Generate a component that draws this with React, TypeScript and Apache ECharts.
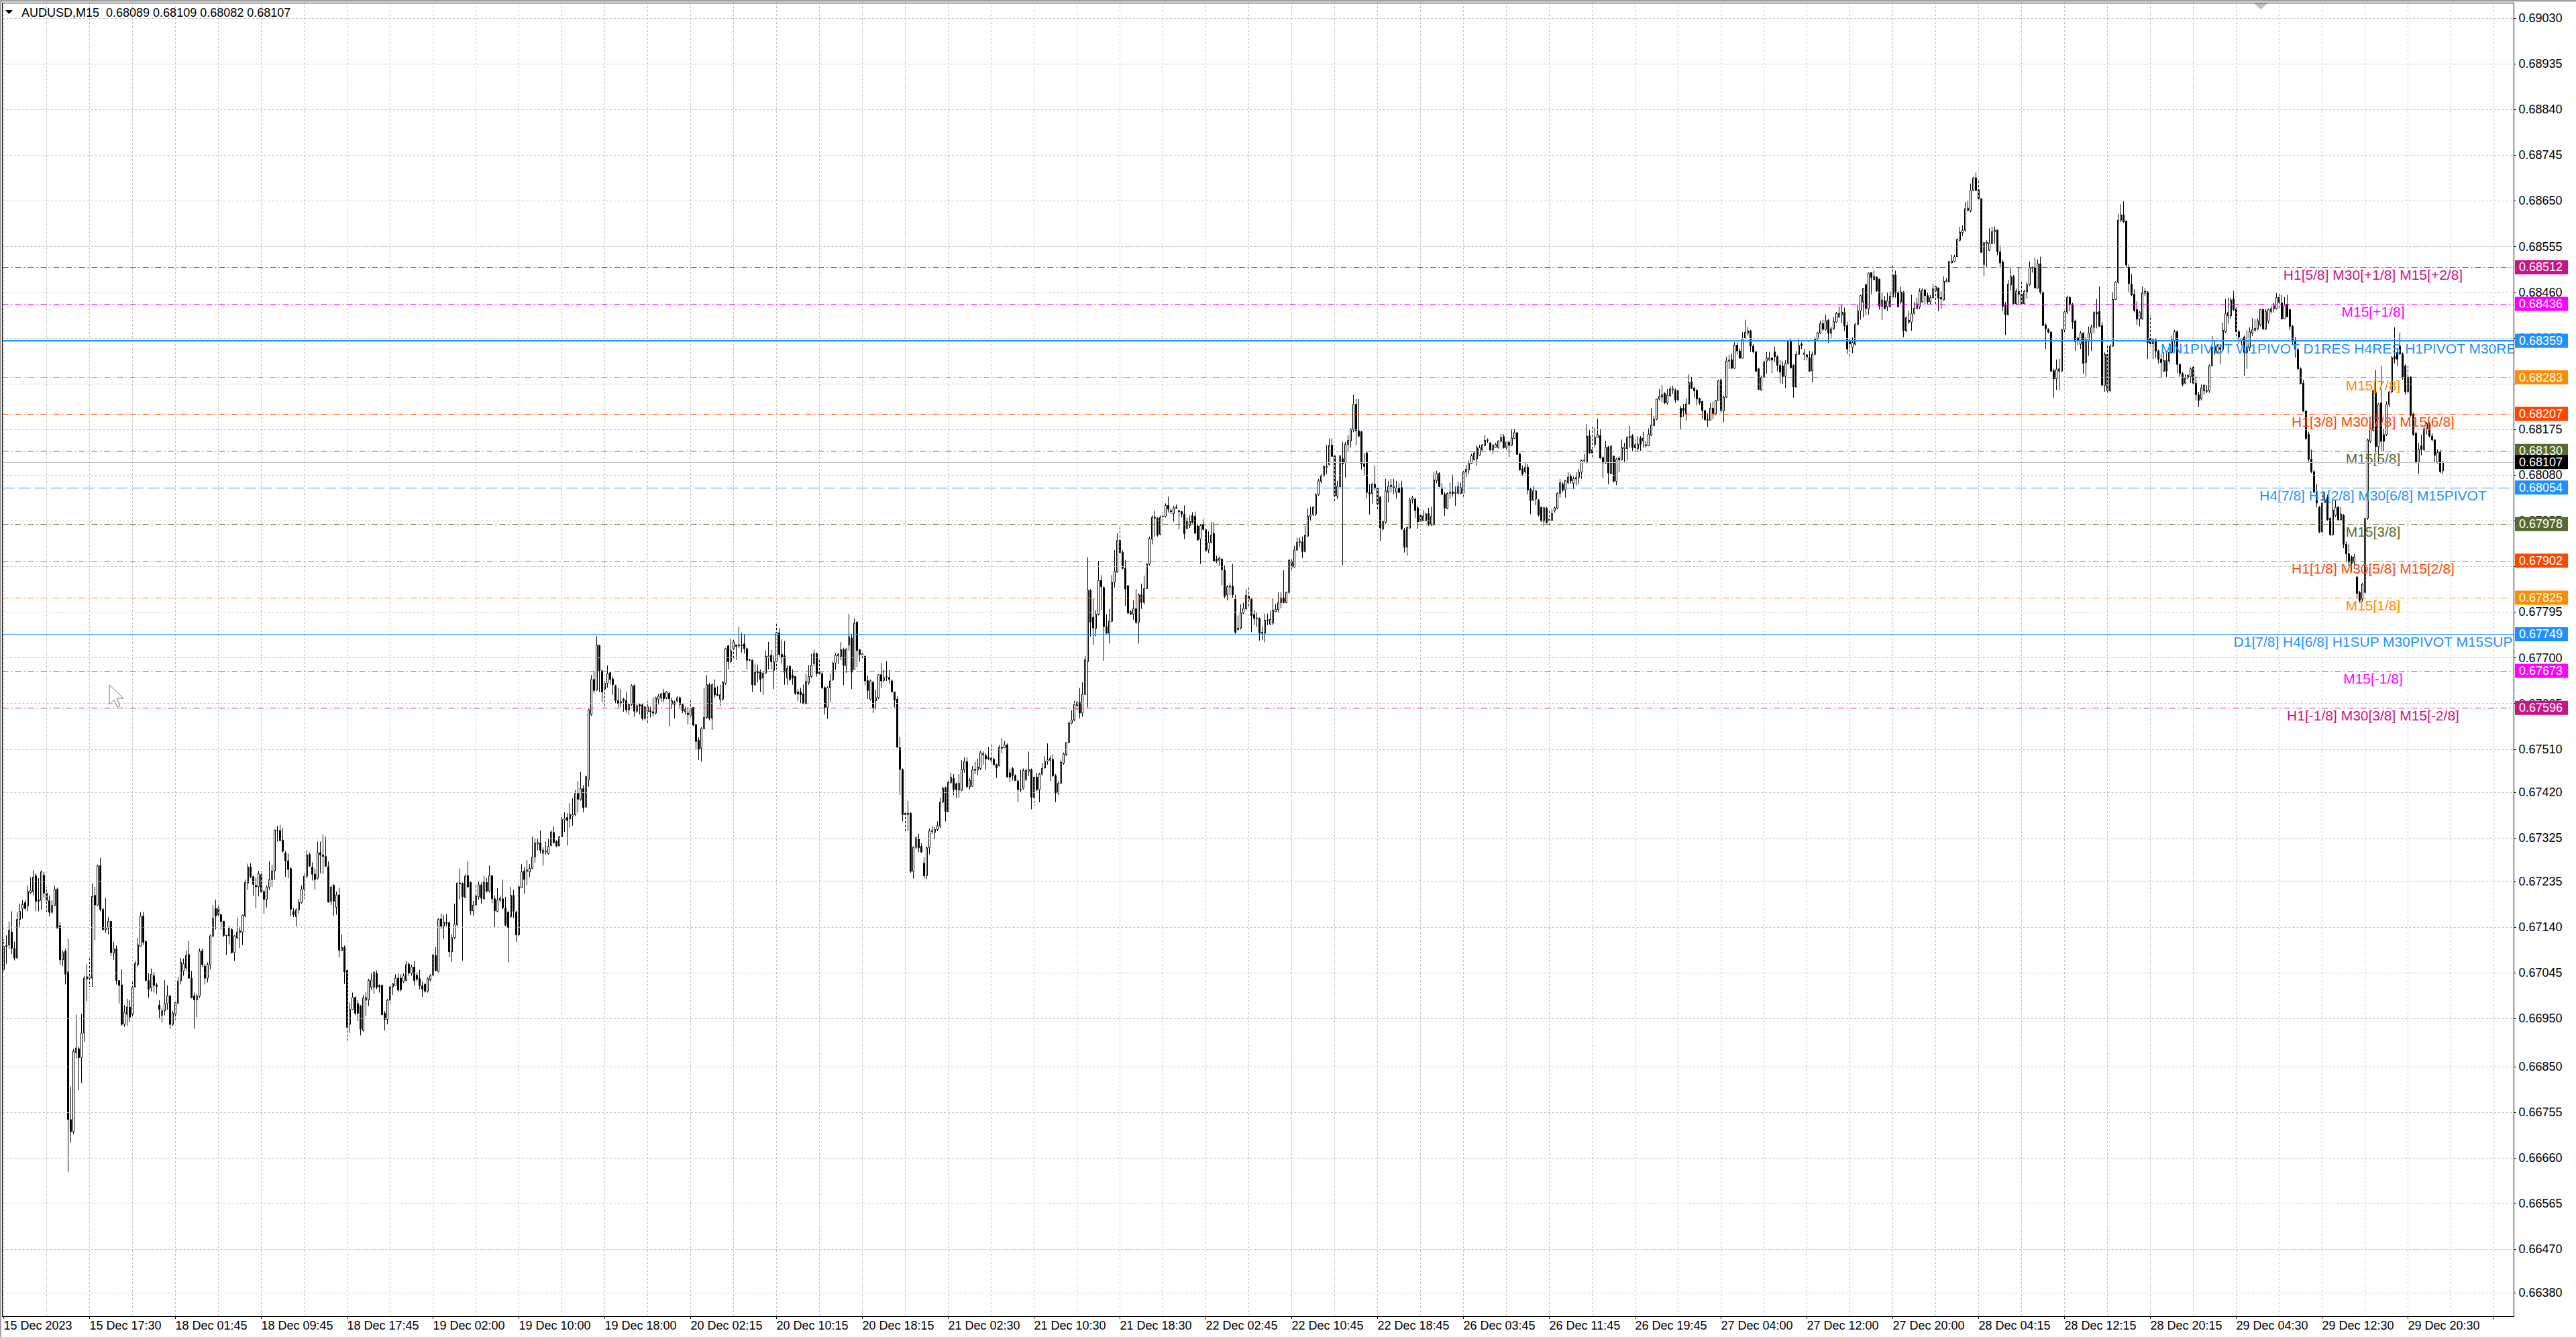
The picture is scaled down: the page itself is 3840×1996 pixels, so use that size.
import React, { useEffect, useRef } from "react";
import * as echarts from "echarts";

// Prices are stored in points (1 point = 0.00001)
const POINT = 100000;
const HEADER_TEXT = "AUDUSD,M15  0.68089 0.68109 0.68082 0.68107";
const FONT = "Liberation Sans";

const timeLabels = [
  "15 Dec 2023", "15 Dec 17:30", "18 Dec 01:45", "18 Dec 09:45", "18 Dec 17:45", "19 Dec 02:00",
  "19 Dec 10:00", "19 Dec 18:00", "20 Dec 02:15", "20 Dec 10:15", "20 Dec 18:15", "21 Dec 02:30",
  "21 Dec 10:30", "21 Dec 18:30", "22 Dec 02:45", "22 Dec 10:45", "22 Dec 18:45", "26 Dec 03:45",
  "26 Dec 11:45", "26 Dec 19:45", "27 Dec 04:00", "27 Dec 12:00", "27 Dec 20:00", "28 Dec 04:15",
  "28 Dec 12:15", "28 Dec 20:15", "29 Dec 04:30", "29 Dec 12:30", "29 Dec 20:30",
];
const LABEL_STEP = 32;
const GRID_STEP = 16;
const SHIFT_BARS = 26;

const Y_MIN = 66331.2;
const Y_MAX = 69060.7;
// price grid levels (every one has a dotted grid line)
const priceTicks = [
  69030, 68935, 68840, 68745, 68650, 68555, 68460, 68365, 68270, 68175, 68080, 67985, 67890, 67795,
  67700, 67605, 67510, 67420, 67325, 67235, 67140, 67045, 66950, 66850, 66755, 66660, 66565, 66470, 66380,
];
// price labels that are fully hidden under the level tags in the reference
const hiddenPriceLabels = [68270, 67890];

const LEVEL_LABEL_BAR = 883;
const BID = 68107;
const levels = [
  { price: 68512, text: "H1[5/8] M30[+1/8] M15[+2/8]", color: "#C71585", style: "dashdot", width: 1 },
  { price: 68436, text: "M15[+1/8]", color: "#FF00FF", style: "dashdot", width: 1 },
  { price: 68359, text: "MN1PIVOT W1PIVOT D1RES H4RES H1PIVOT M30RES M15RES", color: "#1E90FF", style: "solid", width: 2 },
  { price: 68283, text: "M15[7/8]", color: "#FF8C00", style: "dashdot", width: 1 },
  { price: 68207, text: "H1[3/8] M30[7/8] M15[6/8]", color: "#FF4500", style: "dashdot", width: 1 },
  { price: 68130, text: "M15[5/8]", color: "#556B2F", style: "dashdot", width: 1 },
  { price: 68054, text: "H4[7/8] H1[2/8] M30[6/8] M15PIVOT", color: "#1E90FF", style: "dash", width: 1 },
  { price: 67978, text: "M15[3/8]", color: "#556B2F", style: "dashdot", width: 1 },
  { price: 67902, text: "H1[1/8] M30[5/8] M15[2/8]", color: "#FF4500", style: "dashdot", width: 1 },
  { price: 67825, text: "M15[1/8]", color: "#FF8C00", style: "dashdot", width: 1 },
  { price: 67749, text: "D1[7/8] H4[6/8] H1SUP M30PIVOT M15SUP", color: "#1E90FF", style: "solid", width: 1 },
  { price: 67673, text: "M15[-1/8]", color: "#FF00FF", style: "dashdot", width: 1 },
  { price: 67596, text: "H1[-1/8] M30[3/8] M15[-2/8]", color: "#C71585", style: "dashdot", width: 1 },
];

// [open, close, low, high] in points
const seg1 = [
[67052,67100,67049,67115],[67100,67102,67064,67123],[67103,67134,67095,67152],[67130,67096,67084,67173],[67096,67076,67071,67110],
[67076,67156,67075,67171],[67156,67173,67141,67189],[67179,67187,67158,67196],[67191,67179,67176,67196],[67184,67214,67173,67227],
[67212,67216,67209,67244],[67214,67244,67206,67258],[67247,67194,67173,67252],[67197,67194,67173,67242],[67196,67255,67176,67258],
[67248,67211,67201,67255],[67211,67195,67168,67224],[67195,67171,67163,67206],[67171,67185,67168,67196],[67185,67219,67184,67226],
[67219,67138,67137,67222],[67143,67072,67062,67151],[67072,67087,67059,67092],[67090,67042,67021,67095],[67047,66740,66631,67116],
[66740,66715,66692,66808],[66715,66882,66710,66887],[66879,66889,66867,66958],[66887,66869,66801,66892],[66869,66920,66816,66960],
[66920,67034,66902,67039],[67032,67037,66986,67063],[67037,67034,67016,67075],[67034,67204,67016,67231],[67206,67186,67113,67224],
[67186,67267,67184,67270],[67268,67177,67173,67284],[67177,67135,67133,67181],[67135,67138,67128,67201],[67138,67152,67125,67161],
[67152,67087,67080,67153],[67086,67095,67072,67110],[67095,67029,67021,67102],[67029,67019,66981,67030],[67020,66938,66935,67052],
[66938,66963,66933,66978],[66959,66974,66935,66991],[66974,66953,66943,66988],[66958,67015,66950,67026],[67016,67065,67015,67070],
[67062,67103,67057,67118],[67100,67163,67099,67171],[67163,67109,67103,67172],[67110,67029,67029,67113],[67029,67011,66993,67044],
[67014,67042,67006,67054],[67039,67019,67004,67047],[67020,67017,67001,67024],[66978,66969,66950,66988],[66957,66966,66941,66971],
[66966,66981,66957,67030],[66981,66997,66968,67019],[66997,66938,66929,66999],[66938,66961,66935,66966],[66959,66983,66948,66988],
[66982,67028,66981,67037],[67029,67067,67021,67076],[67049,67064,67039,67075],[67055,67081,67050,67092],[67083,67034,67033,67111],
[67034,66993,66992,67049],[66997,66989,66929,67004],[66989,66997,66953,67001],[66997,67090,66993,67096],[67091,67062,67057,67096],
[67059,67034,67021,67064],[67034,67062,67025,67067],[67062,67122,67052,67125],[67121,67158,67120,67186],[67179,67163,67135,67197],
[67179,67166,67161,67189],[67166,67152,67135,67168],[67152,67123,67120,67153],[67123,67122,67082,67123],[67122,67138,67104,67143],
[67135,67087,67085,67138],[67087,67122,67070,67123],[67118,67130,67115,67160],[67129,67132,67097,67141],[67130,67165,67103,67166],
[67163,67233,67161,67239],[67232,67265,67217,67272],[67265,67244,67242,67273],[67245,67229,67206,67247],[67227,67224,67179,67244],
[67224,67251,67204,67257],[67249,67213,67211,67257],[67214,67198,67168,67217],[67198,67223,67181,67227],[67223,67239,67217,67277],
[67239,67257,67224,67270],[67257,67342,67239,67343],[67340,67341,67318,67351],[67341,67320,67319,67353],[67321,67298,67295,67346],
[67294,67278,67245,67298],[67278,67260,67242,67293],[67262,67177,67163,67265],[67173,67166,67161,67179],[67162,67176,67141,67179],
[67176,67191,67168,67199],[67191,67219,67189,67227],[67219,67246,67199,67251],[67246,67290,67242,67300],[67291,67267,67265,67295],
[67265,67250,67237,67275],[67250,67239,67218,67262],[67242,67295,67239,67318],[67295,67290,67252,67318],[67290,67287,67251,67333],
[67287,67267,67265,67328],[67266,67192,67191,67277],[67194,67223,67186,67227],[67227,67194,67163,67229],[67181,67207,67166,67214],
[67207,67092,67077,67222],[67092,67098,67090,67125],[67098,67047,67022,67102],[67050,66932,66902,67052],[66938,66969,66920,66983],
[66969,66994,66968,67004],[66994,66961,66957,66996],[66981,66961,66945,66988],[66977,66928,66915,66978],[66925,66993,66923,66999],
[66988,66994,66955,67005],[66989,67029,66976,67033],[67015,67030,67009,67044],[67015,67046,67001,67049],[67045,67015,67011,67050],
[67019,67016,67004,67021],[67019,66958,66958,67021],[66961,66948,66925,66966],[66948,66988,66938,66991],[66988,67016,66981,67019],
[67016,67022,66999,67024],[67019,67034,67019,67042],[67034,67009,67006,67044],[67034,67010,67006,67042],[67027,67039,67024,67044],
[67029,67062,67029,67070],[67063,67044,67039,67067],[67044,67057,67039,67062],[67057,67029,67019,67070],
];

const seg2 = [
[67040,67032,67027,67046],[67033,67018,67011,67051],[67018,67011,66995,67027],[67021,67007,67004,67024],[67007,67033,67004,67036],
[67031,67039,67027,67042],[67040,67082,67039,67086],[67081,67050,67048,67098],[67048,67156,67046,67159],[67157,67142,67136,67168],
[67142,67150,67115,67165],[67150,67148,67142,67167],[67149,67089,67077,67152],[67089,67118,67068,67124],[67118,67146,67115,67189],
[67145,67232,67142,67233],[67232,67230,67197,67262],[67231,67203,67070,67233],[67202,67246,67200,67250],[67247,67224,67221,67277],
[67233,67174,67165,67236],[67174,67186,67164,67195],[67186,67205,67183,67227],[67203,67228,67197,67236],[67228,67200,67189,67233],
[67199,67234,67197,67247],[67233,67215,67212,67242],[67215,67247,67212,67268],[67247,67199,67190,67249],[67199,67174,67139,67206],
[67173,67196,67171,67221],[67196,67200,67192,67206],[67199,67180,67177,67239],[67180,67144,67142,67203],[67171,67139,67067,67174],
[67162,67206,67159,67224],[67206,67173,67159,67218],[67171,67124,67109,67174],[67124,67224,67121,67227],[67222,67255,67221,67271],
[67257,67239,67210,67265],[67256,67259,67227,67280],[67255,67262,67244,67271],[67262,67286,67261,67328],[67286,67315,67274,67324],
[67313,67316,67300,67324],[67315,67300,67293,67341],[67294,67300,67268,67306],[67298,67297,67291,67318],[67293,67308,67291,67324],
[67310,67338,67308,67341],[67337,67316,67314,67349],[67318,67309,67306,67321],[67309,67328,67308,67330],[67328,67364,67327,67374],
[67363,67366,67338,67379],[67368,67362,67310,67377],[67365,67374,67347,67398],[67371,67374,67351,67408],[67374,67418,67371,67425],
[67418,67406,67379,67444],[67406,67428,67403,67463],[67428,67388,67379,67435],[67390,67453,67388,67455],[67446,67592,67432,67594],
[67582,67655,67579,67664],[67655,67632,67626,67673],[67633,67727,67631,67745],[67726,67673,67629,67727],[67673,67629,67608,67676],
[67635,67647,67600,67652],[67647,67667,67638,67684],[67669,67655,67644,67670],[67656,67644,67623,67661],[67642,67611,67605,67644],
[67611,67605,67597,67638],[67606,67609,67597,67635],[67614,67611,67588,67617],[67611,67592,67586,67629],[67592,67603,67582,67605],
[67603,67642,67600,67645],[67642,67589,67578,67645],[67589,67600,67585,67605],[67603,67600,67582,67605],[67602,67574,67570,67605],
[67574,67598,67570,67600],[67588,67598,67563,67610],[67590,67588,67576,67598],[67588,67585,67578,67617],[67585,67617,67582,67619],
[67614,67620,67603,67625],[67617,67625,67608,67627],[67627,67615,67608,67635],[67617,67629,67614,67631],[67626,67615,67558,67629],
[67604,67611,67594,67617],[67608,67603,67574,67611],[67610,67617,67608,67620],[67617,67603,67597,67620],[67603,67590,67585,67605],
[67588,67593,67582,67598],[67585,67582,67561,67598],[67580,67595,67576,67611],[67597,67560,67558,67598],[67561,67526,67509,67563],
[67529,67509,67488,67535],[67512,67553,67484,67556],[67553,67576,67551,67638],[67576,67644,67573,67664],[67644,67574,67570,67648],
[67574,67644,67550,67647],[67638,67623,67617,67655],[67625,67622,67620,67641],[67614,67623,67600,67644],[67614,67649,67611,67652],
[67647,67719,67644,67721],[67725,67692,67676,67727],[67692,67715,67689,67740],[67719,67733,67699,67740],[67727,67724,67696,67727],
[67725,67727,67720,67765],[67727,67725,67711,67752],[67729,67719,67709,67749],[67719,67695,67676,67721],[67696,67695,67693,67698],
[67695,67644,67629,67696],[67644,67670,67641,67688],[67671,67669,67649,67686],[67670,67655,67629,67676],[67658,67668,67623,67673],
[67668,67703,67667,67715],[67702,67704,67676,67733],[67705,67692,67676,67717],[67674,67692,67635,67705],[67692,67752,67676,67770],
[67752,67707,67702,67761],[67707,67702,67688,67738],[67705,67670,67644,67735],[67658,67678,67644,67684],[67682,67655,67652,67685],
[67664,67658,67644,67676],[67661,67626,67623,67662],[67629,67625,67610,67635],[67629,67623,67605,67638],[67625,67605,67604,67644],
[67605,67651,67603,67667],[67648,67661,67644,67685],[67661,67685,67658,67708],[67688,67709,67682,67717],[67709,67667,67661,67711],
[67670,67667,67664,67699],[67667,67638,67635,67670],[67638,67597,67582,67641],[67597,67638,67573,67641],[67638,67652,67608,67667],
];

const seg3 = [
[67655,67689,67652,67692],[67689,67705,67675,67710],[67704,67707,67687,67710],[67703,67717,67695,67733],[67717,67684,67643,67721],
[67684,67718,67669,67721],[67727,67744,67715,67791],[67741,67670,67635,67750],[67676,67772,67675,67782],[67774,67715,67681,67776],
[67717,67707,67692,67718],[67708,67706,67698,67710],[67703,67652,67643,67705],[67653,67632,67614,67663],[67614,67652,67611,67655],
[67649,67597,67585,67652],[67611,67617,67593,67634],[67617,67665,67614,67666],[67665,67652,67637,67689],[67653,67659,67649,67675],
[67660,67661,67652,67693],[67659,67655,67646,67675],[67652,67629,67629,67655],[67629,67612,67597,67630],[67614,67514,67513,67620],
[67513,67468,67415,67536],[67468,67374,67360,67470],[67377,67374,67340,67379],[67374,67377,67340,67403],[67377,67256,67253,67379],
[67256,67306,67241,67308],[67306,67326,67302,67328],[67323,67305,67296,67334],[67308,67296,67295,67314],[67273,67247,67241,67285],
[67247,67305,67240,67308],[67305,67340,67291,67345],[67339,67341,67334,67351],[67337,67343,67323,67348],[67343,67351,67340,67360],
[67350,67400,67345,67409],[67400,67429,67398,67432],[67430,67380,67360,67432],[67380,67441,67377,67444],[67441,67452,67438,67461],
[67449,67426,67415,67458],[67438,67426,67409,67441],[67425,67439,67409,67458],[67425,67468,67423,67487],[67467,67484,67461,67493],
[67484,67432,67429,67493],[67432,67445,67426,67450],[67433,67467,67432,67475],[67468,67466,67458,67484],[67467,67473,67456,67490],
[67470,67503,67467,67507],[67498,67501,67478,67506],[67497,67490,67467,67502],[67493,67490,67487,67514],[67491,67487,67477,67522],
[67489,67478,67476,67493],[67478,67471,67450,67480],[67476,67514,67474,67519],[67512,67514,67502,67533],[67513,67519,67513,67527],
[67519,67452,67452,67522],[67461,67452,67441,67470],[67470,67455,67445,67473],[67455,67445,67444,67458],[67444,67426,67400,67447],
[67426,67427,67421,67467],[67429,67466,67426,67470],[67447,67466,67444,67470],[67464,67468,67455,67505],[67467,67410,67385,67470],
[67410,67452,67392,67455],[67452,67426,67423,67461],[67426,67458,67400,67461],[67458,67470,67455,67481],[67471,67484,67470,67496],
[67485,67488,67478,67522],[67487,67491,67444,67496],[67489,67455,67452,67499],[67455,67419,67400,67458],[67419,67439,67415,67444],
[67439,67483,67438,67487],[67481,67500,67478,67503],[67499,67524,67496,67525],[67524,67564,67522,67568],[67564,67571,67562,67591],
[67571,67603,67568,67611],[67600,67607,67591,67611],[67607,67585,67574,67637],[67585,67624,67577,67649],[67624,67696,67623,67704],
[67692,67841,67597,67909],[67840,67774,67744,67843],[67784,67762,67727,67824],[67761,67791,67745,67799],[67791,67861,67788,67901],
[67861,67848,67799,67872],[67846,67765,67694,67849],[67765,67751,67750,67791],[67751,67776,67730,67802],[67776,67857,67773,67872],
[67857,67880,67846,67924],[67878,67944,67877,67959],[67944,67919,67915,67971],[67919,67886,67884,67924],[67886,67843,67808,67903],
[67850,67793,67791,67851],[67796,67791,67789,67799],[67791,67802,67779,67819],[67802,67774,67770,67843],[67774,67831,67730,67834],
[67831,67815,67802,67854],[67815,67844,67811,67871],[67844,67895,67843,67897],[67895,67948,67892,67952],[67947,67992,67936,67996],
[67992,67990,67952,68006],[67990,67955,67952,67992],[67957,67992,67955,67996],[67993,67994,67979,68002],[67994,68017,67992,68021],
[68017,68009,68002,68035],[68006,68004,67999,68010],[68000,68011,67983,68016],[68013,68011,68010,68019],[68006,68004,67967,68007],
[68004,67999,67992,68006],[67999,67958,67947,68017],[67969,67984,67967,67992],[67975,67984,67970,67996],[67996,67981,67979,68003],
[67994,67959,67957,68004],[67974,67945,67944,67977],[67947,67975,67895,67978],[67977,67967,67964,67988],[67967,67922,67921,67969],
[67925,67940,67918,67963],[67940,67955,67938,67982],[67959,67901,67900,67982],[67905,67901,67897,67912],[67903,67907,67892,67911],
[67905,67883,67851,67907],[67882,67828,67824,67892],[67831,67848,67819,67851],[67847,67849,67830,67855],[67849,67831,67825,67895],
[67822,67753,67750,67831],[67759,67762,67756,67788],[67762,67793,67759,67811],[67793,67803,67791,67814],[67802,67830,67799,67843],
[67828,67822,67805,67848],[67822,67788,67753,67824],
];

const seg4 = [
[67790,67782,67768,67799],[67783,67782,67764,67794],[67782,67751,67736,67784],[67753,67751,67737,67766],[67751,67778,67732,67792],
[67779,67777,67768,67792],[67770,67780,67768,67798],[67772,67799,67768,67824],[67796,67801,67794,67812],[67800,67815,67794,67836],
[67815,67825,67803,67837],[67825,67815,67813,67882],[67815,67836,67813,67838],[67836,67903,67833,67905],[67900,67889,67878,67905],
[67889,67924,67887,67933],[67924,67940,67922,67950],[67940,67942,67930,67950],[67941,67921,67907,67952],[67921,67955,67919,67974],
[67953,67995,67951,68011],[67994,67997,67986,68014],[67998,68013,67995,68016],[67999,68039,67995,68042],[68039,68068,68037,68072],
[68067,68078,68063,68082],[68078,68098,68077,68100],[68095,68098,68082,68143],[68102,68142,68100,68156],[68142,68119,68117,68156],
[68120,68037,68026,68121],[68036,68057,68030,68068],[68056,68120,68054,68121],[68114,68103,67893,68149],[68106,68144,68075,68149],
[68144,68152,68128,68163],[68151,68176,68137,68177],[68174,68227,68169,68247],[68227,68172,68142,68238],[68172,68161,68158,68238],
[68170,68103,68091,68172],[68103,68098,68080,68125],[68126,68044,68031,68128],[68044,68040,67998,68061],[68042,68061,68021,68064],
[68061,68054,68049,68100],[68053,68020,68007,68054],[68034,67970,67943,68037],[67968,67983,67964,67986],[67982,68047,67979,68072],
[68044,68057,68023,68068],[68056,68059,68044,68072],[68054,68057,68040,68072],[68044,68053,68031,68068],[68053,68044,68042,68063],
[68054,67968,67966,68068],[67966,67930,67919,67970],[67930,67971,67912,67974],[67970,68028,67968,68033],[68029,68033,68021,68037],
[68030,68006,67991,68033],[68012,67983,67968,68016],[67997,67983,67981,68000],[67985,67995,67984,68007],[67985,67999,67984,68002],
[68000,67977,67974,68012],[67977,67994,67974,68014],[67977,68070,67974,68087],[68068,68083,68063,68089],[68083,68056,68055,68086],
[68051,68040,68039,68063],[68040,68011,67995,68044],[68011,68042,68009,68044],[68042,68044,68030,68064],[68045,68042,68035,68081],
[68042,68044,68016,68056],[68042,68056,68041,68065],[68042,68054,68040,68064],[68042,68086,68035,68091],[68086,68092,68075,68101],
[68091,68104,68082,68110],[68104,68120,68103,68124],[68112,68126,68110,68130],[68114,68137,68100,68142],[68121,68137,68120,68143],
[68132,68143,68131,68144],[68141,68152,68140,68163],[68152,68153,68147,68156],[68147,68132,68131,68148],[68132,68142,68123,68144],
[68138,68144,68137,68147],[68137,68151,68135,68152],[68151,68158,68147,68165],[68160,68137,68135,68165],[68137,68149,68133,68151],
[68148,68142,68117,68152],[68142,68157,68140,68176],[68156,68168,68155,68175],[68168,68123,68122,68169],[68124,68091,68089,68126],
[68093,68082,68079,68100],[68087,68096,68082,68107],[68096,68049,68040,68103],[68051,68027,67999,68054],[68028,68047,68026,68057],
[68030,68047,68017,68049],[68028,67997,67994,68030],[68013,67984,67983,68014],[67984,68012,67974,68014],[68011,67981,67979,68014],
[67985,67988,67974,68007],[67986,68000,67984,68009],[68006,68012,68002,68014],[68011,68042,68009,68044],[68042,68064,68033,68072],
[68061,68049,68044,68065],[68049,68068,68033,68070],[68064,68076,68061,68086],[68077,68068,68062,68082],[68063,68073,68051,68077],
[68072,68075,68058,68086],[68075,68086,68061,68093],[68086,68110,68072,68112],[68110,68111,68107,68124],[68106,68161,68104,68186],
[68162,68126,68124,68175],[68133,68126,68114,68182],[68144,68158,68137,68179],[68158,68164,68158,68197],[68162,68115,68114,68176],
[68116,68105,68073,68119],[68105,68138,68103,68151],[68138,68084,68061,68141],[68083,68140,68082,68142],[68119,68067,68065,68121],
[68067,68113,68059,68116],[68115,68112,68086,68119],[68112,68137,68110,68154],[68135,68138,68107,68147],[68135,68158,68110,68161],
[68158,68160,68137,68182],[68162,68137,68130,68165],[68143,68137,68128,68154],[68135,68144,68130,68161],[68157,68144,68130,68161],
[68151,68157,68137,68170],[68141,68143,68137,68151],[68141,68165,68140,68177],[68163,68184,68161,68219],[68183,68196,68182,68203],
[68196,68238,68194,68239],[68238,68244,68235,68259],[68242,68247,68231,68267],[68250,68230,68228,68252],[68230,68246,68226,68259],
[68245,68259,68242,68265],[68257,68259,68249,68266],[68256,68236,68230,68260],[68236,68256,68235,68259],[68219,68201,68175,68224],
[68219,68214,68201,68228],[68208,68228,68193,68240],[68228,68272,68227,68289],[68274,68260,68259,68284],[68261,68255,68240,68263],
[68256,68238,68225,68259],[68239,68230,68226,68241],[68233,68214,68196,68235],[68214,68195,68193,68216],[68195,68194,68180,68208],
[68194,68219,68193,68230],[68219,68208,68196,68233],[68207,68235,68204,68236],[68235,68276,68235,68278],[68278,68214,68205,68284],
[68214,68242,68190,68245],
];

const seg5 = [
[68242,68317,68240,68326],[68317,68319,68301,68330],[68320,68302,68301,68333],[68302,68350,68301,68356],[68350,68338,68331,68356],
[68338,68323,68322,68343],[68323,68363,68322,68377],[68365,68377,68363,68403],[68375,68380,68370,68388],[68380,68348,68336,68382],
[68348,68336,68333,68352],[68336,68296,68294,68338],[68301,68258,68257,68303],[68257,68283,68255,68287],[68283,68316,68282,68317],
[68317,68323,68291,68336],[68320,68324,68317,68336],[68323,68319,68292,68326],[68336,68326,68315,68347],[68326,68308,68296,68329],
[68308,68294,68271,68319],[68307,68285,68270,68317],[68285,68312,68261,68319],[68312,68359,68310,68361],[68359,68303,68301,68363],
[68308,68263,68241,68310],[68263,68331,68261,68338],[68331,68349,68330,68363],[68352,68349,68342,68356],[68331,68334,68319,68342],
[68330,68325,68317,68336],[68324,68296,68294,68338],[68297,68331,68273,68336],[68331,68363,68329,68366],[68363,68376,68361,68377],
[68375,68395,68373,68401],[68395,68383,68380,68403],[68383,68401,68380,68414],[68402,68375,68354,68404],[68375,68384,68363,68389],
[68384,68399,68382,68408],[68398,68416,68396,68419],[68408,68416,68408,68431],[68413,68419,68396,68433],[68418,68390,68380,68428],
[68391,68342,68331,68399],[68359,68352,68322,68363],[68346,68356,68333,68366],[68352,68393,68349,68396],[68393,68421,68393,68435],
[68421,68453,68403,68455],[68440,68468,68408,68469],[68476,68426,68412,68477],[68426,68500,68413,68501],[68501,68491,68456,68501],
[68486,68493,68486,68506],[68492,68463,68461,68492],[68487,68431,68424,68489],[68431,68444,68402,68459],[68442,68426,68425,68452],
[68430,68442,68421,68459],[68430,68452,68428,68462],[68450,68496,68447,68515],[68496,68458,68449,68505],[68459,68430,68428,68462],
[68440,68461,68436,68472],[68461,68380,68367,68462],[68380,68407,68377,68410],[68398,68402,68394,68421],[68398,68416,68380,68455],
[68416,68427,68414,68440],[68426,68436,68425,68449],[68430,68462,68425,68468],[68440,68465,68438,68468],[68465,68453,68435,68468],
[68453,68440,68434,68459],[68440,68449,68436,68454],[68449,68467,68447,68477],[68463,68472,68434,68478],[68469,68447,68421,68470],
[68449,68446,68426,68462],[68444,68483,68442,68493],[68482,68484,68481,68489],[68482,68524,68481,68525],[68521,68525,68520,68538],
[68524,68534,68523,68538],[68534,68570,68533,68572],[68568,68585,68565,68596],[68584,68589,68577,68599],[68589,68634,68586,68648],
[68630,68635,68628,68651],[68630,68672,68626,68686],[68672,68698,68670,68700],[68698,68672,68670,68709],[68673,68654,68649,68692],
[68654,68543,68542,68656],[68518,68563,68493,68565],[68561,68564,68512,68568],[68547,68563,68546,68593],[68561,68586,68560,68596],
[68586,68589,68561,68597],[68589,68544,68537,68591],[68544,68521,68511,68558],[68523,68431,68421,68528],[68433,68413,68371,68440],
[68413,68477,68412,68486],[68475,68493,68463,68512],[68493,68436,68434,68496],[68436,68462,68433,68468],[68462,68456,68434,68512],
[68456,68436,68434,68483],[68436,68462,68435,68465],[68461,68476,68447,68482],[68476,68511,68473,68524],[68510,68512,68501,68514],
[68511,68469,68468,68532],[68469,68519,68467,68528],[68519,68459,68456,68534],[68459,68391,68390,68462],[68392,68384,68342,68396],
[68383,68377,68375,68385],[68377,68296,68294,68380],[68297,68280,68241,68301],[68280,68300,68257,68320],[68296,68301,68257,68322],
[68296,68382,68295,68384],[68382,68419,68373,68422],[68419,68449,68415,68453],[68449,68434,68421,68452],[68435,68398,68384,68438],
[68400,68357,68338,68403],[68365,68359,68350,68367],[68352,68375,68342,68380],[68375,68312,68291,68377],
];

const seg6 = [
[68314,68361,68284,68367],[68358,68375,68328,68389],[68375,68387,68338,68393],[68387,68418,68375,68421],[68418,68415,68385,68446],
[68420,68389,68388,68472],[68391,68267,68264,68398],[68266,68331,68253,68335],[68331,68255,68249,68352],[68255,68348,68253,68352],
[68348,68445,68347,68461],[68445,68481,68444,68483],[68481,68610,68478,68623],[68610,68621,68606,68643],[68621,68606,68604,68649],
[68608,68517,68511,68609],[68512,68478,68461,68518],[68477,68455,68452,68498],[68456,68422,68418,68466],[68424,68404,68392,68441],
[68404,68418,68389,68421],[68405,68458,68403,68472],[68458,68462,68452,68469],[68461,68355,68321,68462],[68364,68353,68347,68412],
[68353,68361,68321,68364],[68361,68338,68324,68364],[68338,68321,68312,68341],[68321,68314,68284,68332],[68296,68318,68294,68335],
[68318,68296,68284,68338],[68317,68335,68312,68355],[68335,68361,68333,68370],[68358,68378,68353,68382],[68378,68310,68292,68381],
[68310,68291,68284,68312],[68291,68268,68264,68294],[68271,68281,68268,68290],[68283,68287,68278,68290],[68284,68301,68271,68304],
[68304,68271,68267,68307],[68271,68247,68235,68285],[68247,68235,68221,68253],[68238,68261,68235,68270],[68255,68267,68247,68268],
[68254,68256,68250,68267],[68255,68307,68251,68310],[68307,68346,68306,68369],[68335,68347,68330,68361],[68336,68347,68332,68352],
[68345,68341,68310,68352],[68341,68381,68338,68397],[68378,68415,68375,68446],[68411,68418,68395,68449],[68411,68444,68404,68449],
[68446,68424,68421,68463],[68426,68378,68364,68429],[68378,68367,68352,68381],[68358,68364,68350,68365],[68367,68335,68287,68370],
[68335,68346,68301,68381],[68344,68378,68338,68387],[68375,68382,68369,68406],[68381,68385,68378,68404],[68384,68401,68381,68406],
[68392,68424,68389,68425],[68424,68384,68381,68426],[68384,68420,68381,68426],[68400,68424,68395,68426],[68420,68426,68415,68432],
[68426,68432,68418,68438],[68426,68449,68424,68458],[68439,68450,68424,68458],[68438,68405,68403,68455],[68405,68433,68404,68450],
[68435,68409,68408,68455],[68424,68389,68381,68426],[68389,68358,68352,68392],[68358,68341,68324,68367],[68341,68301,68298,68344],
[68301,68270,68268,68304],[68271,68213,68211,68278],[68213,68156,68153,68214],[68165,68113,68108,68170],[68113,68087,68084,68133],
[68087,68045,68042,68090],[68045,68022,68013,68062],[68013,67962,67959,68016],[67962,68022,67953,68039],[68023,68027,68022,68045],
[68033,67987,67985,68039],[67990,67956,67953,67993],[67956,68007,67954,68027],[67996,68013,67993,68027],[68013,67987,67985,68016],
[67987,67999,67985,68013],[67996,67936,67928,67999],[67936,67916,67899,67942],[67916,67899,67888,67936],[67910,67896,67879,67913],
[67899,67910,67885,67916],[67868,67834,67822,67871],[67836,67819,67814,67839],[67822,67853,67816,67856],[67836,67990,67834,67993],
[67990,68153,67987,68156],[68150,68178,68147,68187],[68173,68255,68170,68258],[68253,68139,68127,68298],[68139,68227,68104,68230],
[68230,68150,68130,68307],[68164,68150,68130,68176],[68164,68227,68161,68233],[68227,68253,68221,68255],[68253,68324,68250,68327],
[68327,68321,68312,68387],[68335,68321,68307,68341],[68348,68332,68330,68376],[68332,68284,68278,68335],[68307,68253,68247,68310],
[68253,68284,68250,68310],[68284,68204,68201,68285],[68207,68164,68161,68210],[68167,68107,68104,68170],[68107,68133,68082,68147],
[68141,68133,68121,68164],[68133,68176,68130,68181],[68176,68187,68164,68190],[68187,68161,68158,68190],[68161,68153,68150,68167],
[68153,68121,68107,68154],[68107,68127,68104,68133],[68127,68087,68084,68133],[68089,68107,68082,68109],
];

const DASH = [18, 6];
const DASHDOT = [9, 4, 2, 4];
const GRID_DASH = [3, 3];

export default function App() {
  const ref = useRef<HTMLDivElement>(null);

  useEffect(() => {
    document.body.style.margin = "0";
    const el = ref.current;
    if (!el) return;
    const chart = echarts.init(el, undefined, { renderer: "svg" });

    const bars = [...seg1, ...seg2, ...seg3, ...seg4, ...seg5, ...seg6].map(([o, c, l, h]) => [
      o, c, Math.min(l, o, c), Math.max(h, o, c),
    ]);
    const total = bars.length + SHIFT_BARS;
    const cats = Array.from({ length: total }, (_, i) =>
      i % LABEL_STEP === 0 ? timeLabels[i / LABEL_STEP] ?? "" : ""
    );
    const vGrid: any[] = [];
    for (let i = 0; i < total; i += GRID_STEP) vGrid.push({ xAxis: i });
    const hGrid = priceTicks.map((v) => ({ yAxis: v }));
    const labelTicks = priceTicks.filter((v) => !hiddenPriceLabels.includes(v));

    const lineType = (s: string) => (s === "solid" ? "solid" : s === "dash" ? DASH : DASHDOT);
    const levelLines = [
      { yAxis: BID, lineStyle: { color: "#C0C0C0", type: "solid", width: 1 } },
      ...levels.map((l) => ({ yAxis: l.price, lineStyle: { color: l.color, type: lineType(l.style), width: l.width } })),
    ];

    const axisFont = { color: "#000", fontSize: 18, fontFamily: FONT };

    chart.setOption({
      animation: false,
      backgroundColor: "#ffffff",
      grid: { left: 3.5, right: 92.5, top: 5, bottom: 34, containLabel: false, outerBoundsMode: "none" },
      xAxis: {
        type: "category",
        data: cats,
        boundaryGap: true,
        axisLine: { show: true, lineStyle: { color: "#000", width: 1 } },
        axisTick: { show: true, interval: LABEL_STEP - 1, alignWithLabel: true, length: 4, lineStyle: { color: "#000" } },
        axisLabel: { ...axisFont, interval: LABEL_STEP - 1, align: "left", margin: 5, hideOverlap: false },
        splitLine: { show: false },
      },
      yAxis: {
        type: "value",
        position: "right",
        min: Y_MIN,
        max: Y_MAX,
        scale: true,
        z: 10,
        axisLine: { show: true, lineStyle: { color: "#000", width: 1 } },
        axisTick: { show: true, length: 3, customValues: priceTicks, lineStyle: { color: "#000" } },
        axisLabel: {
          ...axisFont,
          customValues: labelTicks,
          margin: 7,
          formatter: (v: number) => (v / POINT).toFixed(5),
        },
        splitLine: { show: false },
      },
      series: [
        {
          type: "line",
          data: [],
          z: 1,
          silent: true,
          markLine: {
            silent: true,
            animation: false,
            symbol: ["none", "none"],
            label: { show: false },
            lineStyle: { color: "#C0C0C0", type: GRID_DASH, width: 1 },
            data: [...vGrid, ...hGrid],
          },
        },
        {
          type: "candlestick",
          data: bars,
          z: 2,
          barWidth: 3,
          large: false,
          progressive: 0,
          silent: true,
          itemStyle: {
            color: "#ffffff",
            color0: "#000000",
            borderColor: "#000000",
            borderColor0: "#000000",
            borderColorDoji: "#000000",
            borderWidth: 1,
          },
        },
        {
          type: "line",
          data: [],
          z: 3,
          silent: true,
          markLine: {
            silent: true,
            animation: false,
            symbol: ["none", "none"],
            label: { show: false },
            data: levelLines,
          },
        },
      ],
    });

    const py = (v: number) => chart.convertToPixel({ yAxisIndex: 0 }, v) as number;
    const lx = chart.convertToPixel({ xAxisIndex: 0 }, LEVEL_LABEL_BAR) as number;
    const plotRight = 3840 - 92.5;

    const gfx: any[] = [];
    // level captions
    levels.forEach((l) => {
      gfx.push({
        type: "text",
        x: lx,
        y: py(l.price) + 1,
        z: 4,
        silent: true,
        style: {
          text: l.text,
          fill: l.color,
          font: `21px "${FONT}"`,
          align: "center",
          verticalAlign: "top",
          textAlign: "center",
          textVerticalAlign: "top",
        },
      });
    });
    // cover caption overflow to the right of the plot
    gfx.push({
      type: "rect",
      z: 5,
      silent: true,
      shape: { x: plotRight + 0.5, y: 0, width: 3840 - plotRight, height: 1996 },
      style: { fill: "#ffffff" },
    });
    // price tags
    const tags = [...levels.map((l) => ({ price: l.price, color: l.color })), { price: BID, color: "#000000" }];
    tags.forEach((t) => {
      const y = py(t.price);
      gfx.push({
        type: "rect",
        z: 20,
        silent: true,
        shape: { x: plotRight + 1.5, y: y - 10.5, width: 79, height: 21 },
        style: { fill: t.color },
      });
      gfx.push({
        type: "text",
        z: 21,
        silent: true,
        x: plotRight + 7.5,
        y,
        style: {
          text: (t.price / POINT).toFixed(5),
          fill: "#ffffff",
          font: `18px "${FONT}"`,
          align: "left",
          verticalAlign: "middle",
          textAlign: "left",
          textVerticalAlign: "middle",
        },
      });
    });
    // window frame
    gfx.push(
      { type: "rect", z: 30, silent: true, shape: { x: 0, y: 0, width: 3840, height: 2.5 }, style: { fill: "#A0A0A0" } },
      { type: "rect", z: 30, silent: true, shape: { x: 0, y: 0, width: 2, height: 1996 }, style: { fill: "#A0A0A0" } },
      { type: "rect", z: 30, silent: true, shape: { x: 0, y: 1993, width: 3840, height: 3 }, style: { fill: "#D4D4D4" } },
      { type: "line", z: 30, silent: true, shape: { x1: 3, y1: 4.5, x2: plotRight, y2: 4.5 }, style: { stroke: "#000", lineWidth: 1 } },
      { type: "line", z: 30, silent: true, shape: { x1: 3.5, y1: 4.5, x2: 3.5, y2: 1962 }, style: { stroke: "#000", lineWidth: 1 } }
    );
    // chart shift marker
    gfx.push({
      type: "polygon",
      z: 30,
      silent: true,
      shape: { points: [[3360, 5], [3380, 5], [3370, 14]] },
      style: { fill: "#C0C0C0" },
    });
    // header
    gfx.push(
      { type: "polygon", z: 30, silent: true, shape: { points: [[8, 15], [19, 15], [13.5, 21]] }, style: { fill: "#000" } },
      {
        type: "text",
        z: 30,
        silent: true,
        x: 32,
        y: 18.5,
        style: {
          text: HEADER_TEXT,
          fill: "#000",
          font: `18px "${FONT}"`,
          align: "left",
          verticalAlign: "middle",
          textAlign: "left",
          textVerticalAlign: "middle",
        },
      }
    );
    // mouse cursor
    gfx.push({
      type: "polygon",
      z: 30,
      silent: true,
      shape: { points: [[163, 1021], [163, 1050], [170, 1043], [175, 1054], [179, 1052], [174, 1041], [184, 1041]] },
      style: { fill: "#ffffff", stroke: "#707070", lineWidth: 1 },
    });

    chart.setOption({ graphic: { elements: gfx } });

    return () => chart.dispose();
  }, []);

  return <div ref={ref} style={{ position: "absolute", left: 0, top: 0, width: 3840, height: 1996 }} />;
}
